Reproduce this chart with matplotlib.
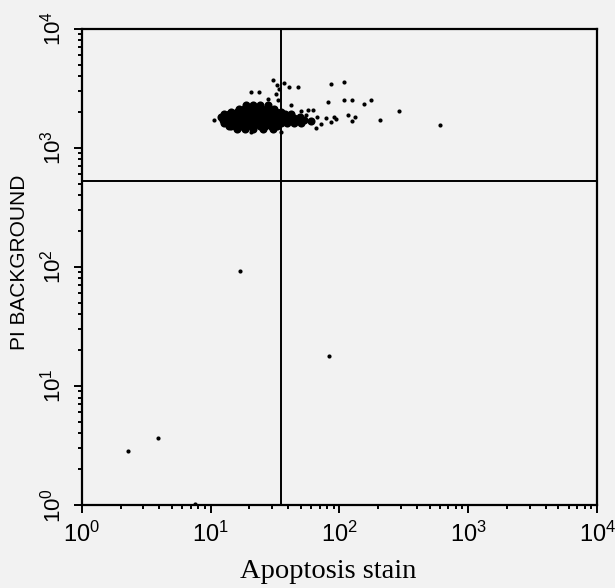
import matplotlib
matplotlib.use("Agg")
import matplotlib.pyplot as plt
from matplotlib.ticker import LogLocator, FixedLocator, NullFormatter

plt.rcParams["font.family"] = ["Liberation Sans", "DejaVu Sans"]

# ---- data ----
core_x = [18.8, 21.4, 24.0, 28.0,
          16.5, 18.3, 20.5, 22.5, 25.2, 27.9, 31.0,
          14.3, 16.0, 17.5, 19.5, 21.4, 24.0, 26.0, 28.8, 32.2, 35.2,
          12.8, 14.0, 15.7, 17.1, 19.1, 20.9, 23.3, 25.4, 28.3, 31.0, 34.5, 37.7, 42.2,
          12.0, 13.3, 14.6, 16.3, 17.8, 19.8, 21.7, 24.1, 26.4, 29.4, 32.2, 35.8, 40.0, 44.5, 49.5,
          12.4, 13.8, 15.1, 16.8, 18.5, 20.5, 22.5, 25.0, 27.4, 30.5, 33.4, 37.1, 41.5, 46.9, 53.2, 60.3,
          12.8, 14.3, 15.7, 17.4, 19.1, 21.3, 23.3, 25.9, 28.3, 31.6, 35.2, 39.2, 44.5, 50.5,
          13.8, 15.4, 17.1, 19.1, 21.3, 24.0, 26.4, 29.4, 32.7,
          16.0, 18.5, 21.3, 25.4, 30.5]
core_y = [2290, 2270, 2300, 2280,
          2130, 2140, 2120, 2135, 2125, 2130, 2140,
          2000, 2010, 1995, 2005, 2000, 1990, 2010, 2000, 1995, 2005,
          1920, 1915, 1925, 1920, 1910, 1920, 1925, 1915, 1920, 1925, 1915, 1920, 1910,
          1800, 1805, 1810, 1800, 1795, 1805, 1800, 1810, 1800, 1795, 1805, 1800, 1810, 1795, 1800,
          1700, 1705, 1695, 1700, 1710, 1700, 1695, 1705, 1700, 1700, 1695, 1705, 1700, 1710, 1700, 1695,
          1610, 1615, 1605, 1610, 1620, 1610, 1605, 1615, 1610, 1600, 1610, 1615, 1605, 1610,
          1520, 1525, 1515, 1520, 1525, 1520, 1515, 1520, 1525,
          1440, 1445, 1435, 1440, 1445]

sparse_x = [10.6, 14.3, 20.5, 25.4, 35.2, 20.5, 23.7, 30.5, 32.7, 34.0, 32.2, 37.1,
            40.6, 47.5, 27.9, 33.4, 42.2, 50.5, 56.9, 62.6, 55.2, 60.3, 67.0, 72.0,
            79.0, 86.5, 94.6, 66.0, 82.0, 86.5, 108.0, 108.0, 124.0, 91.0, 117.0, 131.0,
            124.0, 156.0, 177.0, 206.0, 289.0, 606.0,
            16.9, 83.5, 2.29, 3.93, 7.5]
sparse_y = [1700, 1480, 1350, 1400, 1370, 2950, 2950, 3730, 3360, 3140, 2860, 3530,
            3230, 3230, 2560, 2500, 2290, 2040, 2085, 2085, 1880, 1640, 1800, 1580,
            1770, 1640, 1734, 1480, 2425, 3470, 3600, 2500, 2500, 1800, 1880, 1800,
            1680, 2340, 2500, 1730, 2040, 1545,
            92.5, 17.7, 2.84, 3.66, 1.02]

gate_x = 35.0
gate_y = 525.0
x_range = [1, 10000]
y_range = [1, 10000]
decades = [1, 10, 100, 1000, 10000]
tick_labels = [r"$\mathregular{10^{0}}$", r"$\mathregular{10^{1}}$", r"$\mathregular{10^{2}}$",
               r"$\mathregular{10^{3}}$", r"$\mathregular{10^{4}}$"]
x_title = "Apoptosis stain"
y_title = "PI BACKGROUND"

# ---- figure ----
bg = "#f2f2f2"
fig = plt.figure(figsize=(6.15, 5.88), dpi=100, facecolor=bg)
ax = fig.add_axes([0.133, 0.141, 0.838, 0.810], facecolor=bg)
ax.set_xscale("log")
ax.set_yscale("log")
ax.set_xlim(x_range)
ax.set_ylim(y_range)

ax.scatter(core_x, core_y, s=34, marker="o", c="black", linewidths=0, zorder=3)
ax.scatter(sparse_x, sparse_y, s=9, marker="o", c="black", linewidths=0, zorder=3)

ax.plot(x_range, [gate_y, gate_y], color="black", lw=1.4, zorder=4)
ax.plot([gate_x, gate_x], y_range, color="black", lw=1.4, zorder=4)

for sp in ax.spines.values():
    sp.set_linewidth(1.6)

for axis in (ax.xaxis, ax.yaxis):
    axis.set_major_locator(FixedLocator(decades))
    axis.set_minor_locator(LogLocator(base=10, subs=range(2, 10)))
    axis.set_minor_formatter(NullFormatter())
ax.set_xticklabels(tick_labels)
ax.set_yticklabels(tick_labels)

ax.tick_params(which="major", direction="out", length=6, width=1.4)
ax.tick_params(which="minor", direction="out", length=3, width=1.4)
ax.tick_params(axis="x", which="major", labelsize=17, pad=6)
ax.tick_params(axis="y", which="major", labelsize=16, pad=6)
for lab in ax.get_yticklabels():
    lab.set_rotation(90)
    lab.set_va("center")

ax.set_xlabel(x_title, fontsize=20.5, family="Liberation Serif")
ax.xaxis.set_label_coords(0.479, -0.113)
ax.set_ylabel(y_title, fontsize=15)
ax.yaxis.set_label_coords(-0.102, 0.51)

fig.savefig("out.png", dpi=100, facecolor=bg)
